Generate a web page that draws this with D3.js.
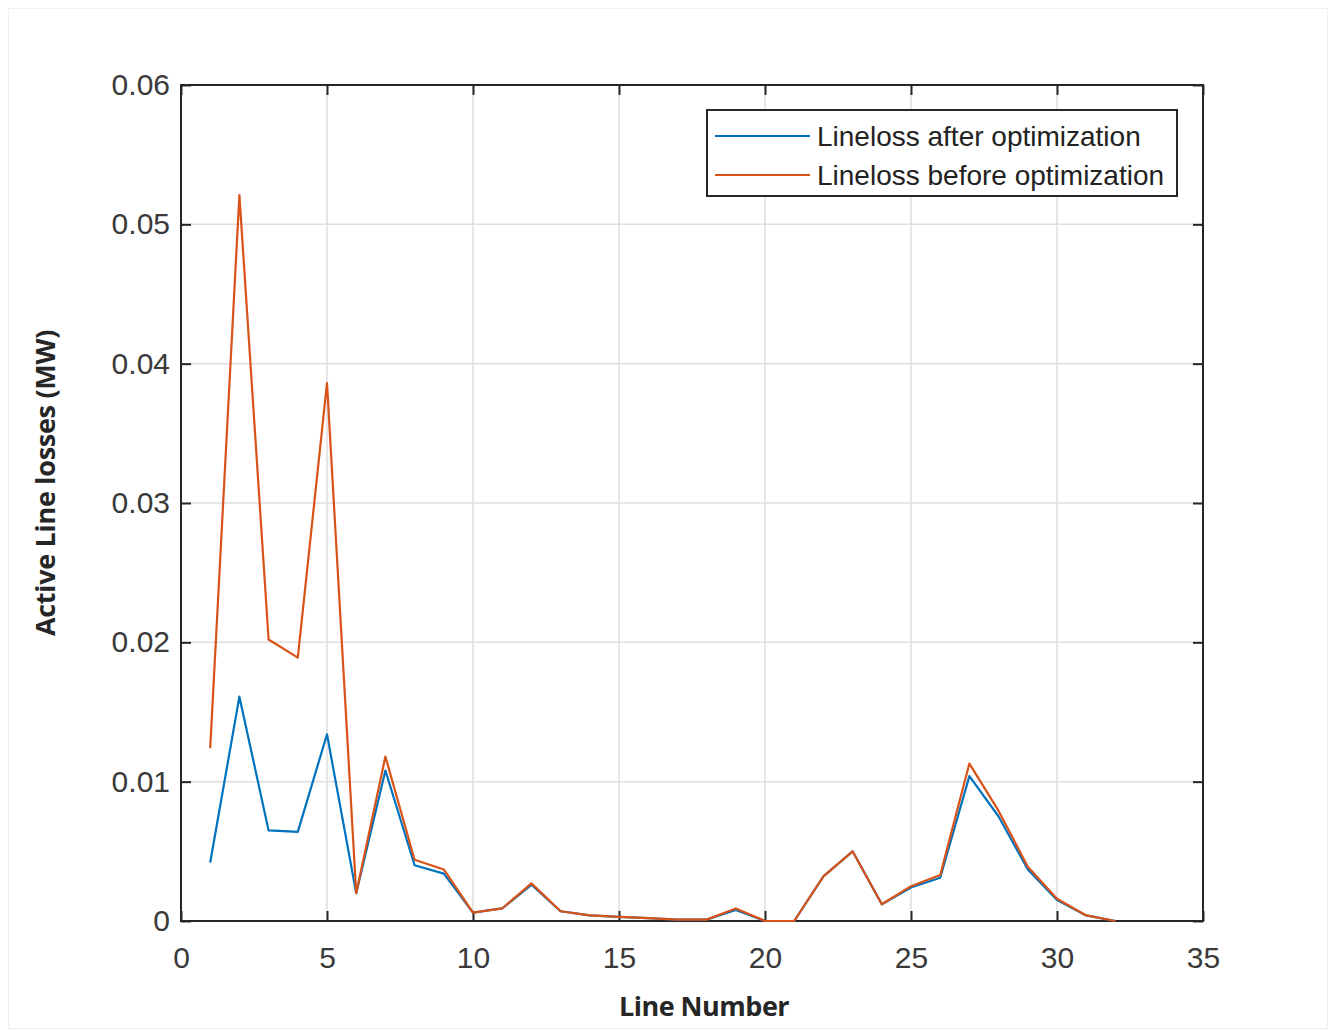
<!DOCTYPE html>
<html>
<head>
<meta charset="utf-8">
<script src="https://cdn.jsdelivr.net/npm/d3@7"></script>
<style>
  body { margin: 0; background: #fff; }
  svg { display: block; }
</style>
</head>
<body>
<div id="chart"></div>
<script>
// line numbers 1..32
let lineNumbers = d3.range(1, 33);

// active line losses (MW)
let lossAfter = [0.0042, 0.0161, 0.0065, 0.0064, 0.0134, 0.0020, 0.0108, 0.0040, 0.0034, 0.0006,
                 0.0009, 0.0026, 0.0007, 0.0004, 0.0003, 0.0002, 0.0001, 0.0001, 0.0008, 0.0000,
                 0.0000, 0.0032, 0.0050, 0.0012, 0.0024, 0.0031, 0.0104, 0.0075, 0.0037, 0.0015,
                 0.0004, 0.0000];
let lossBefore = [0.0124, 0.0521, 0.0202, 0.0189, 0.0386, 0.0020, 0.0118, 0.0044, 0.0037, 0.0006,
                  0.0009, 0.0027, 0.0007, 0.0004, 0.0003, 0.0002, 0.0001, 0.0001, 0.0009, 0.0000,
                  0.0000, 0.0032, 0.0050, 0.0012, 0.0025, 0.0033, 0.0113, 0.0079, 0.0039, 0.0016,
                  0.0004, 0.0000];

let xTicks = [0, 5, 10, 15, 20, 25, 30, 35];
let yTicks = [0, 0.01, 0.02, 0.03, 0.04, 0.05, 0.06];

let seriesNames = ["Lineloss after optimization", "Lineloss before optimization"];
let seriesColors = ["#0072BD", "#D95319"];

let width = 1336, height = 1030;
let margin = {top: 85, right: 133, bottom: 109, left: 181};
let w = width - margin.left - margin.right;
let h = height - margin.top - margin.bottom;

let svg = d3.select("#chart").append("svg")
    .attr("width", width)
    .attr("height", height);

// faint outer frame
svg.append("rect")
    .attr("x", 8.5).attr("y", 8.5)
    .attr("width", width - 17).attr("height", height - 10)
    .attr("fill", "none").attr("stroke", "#f0f0f0");

let g = svg.append("g").attr("transform", `translate(${margin.left},${margin.top})`);

let x = d3.scaleLinear().domain([0, 35]).range([0, w]);
let y = d3.scaleLinear().domain([0, 0.06]).range([h, 0]);

// grid
g.append("g").selectAll("line").data(xTicks.slice(1, -1)).join("line")
    .attr("x1", d => x(d)).attr("x2", d => x(d))
    .attr("y1", 0).attr("y2", h)
    .attr("stroke", "#dedede").attr("stroke-width", 1.5);
g.append("g").selectAll("line").data(yTicks.slice(1, -1)).join("line")
    .attr("x1", 0).attr("x2", w)
    .attr("y1", d => y(d)).attr("y2", d => y(d))
    .attr("stroke", "#dedede").attr("stroke-width", 1.5);

// axes with inward ticks
let fmtY = d => d === 0 ? "0" : d3.format(".2f")(d);
let axisStyle = sel => {
    sel.select(".domain").remove();
    sel.selectAll(".tick line").attr("stroke", "#262626").attr("stroke-width", 2);
    sel.selectAll(".tick text")
        .attr("fill", "#3a3a3a")
        .style("font-family", "'Liberation Sans', Arial, sans-serif")
        .style("font-size", "30px");
};

g.append("g").attr("transform", `translate(0,${h})`)
    .call(d3.axisBottom(x).tickValues(xTicks).tickSize(-10).tickPadding(26))
    .call(axisStyle);
g.append("g")
    .call(d3.axisTop(x).tickValues(xTicks).tickSize(-10).tickFormat(""))
    .call(axisStyle);
g.append("g")
    .call(d3.axisLeft(y).tickValues(yTicks).tickSize(-10).tickFormat(fmtY).tickPadding(11))
    .call(axisStyle);
g.append("g").attr("transform", `translate(${w},0)`)
    .call(d3.axisRight(y).tickValues(yTicks).tickSize(-10).tickFormat(""))
    .call(axisStyle);

// box
g.append("rect")
    .attr("width", w).attr("height", h)
    .attr("fill", "none")
    .attr("stroke", "#262626").attr("stroke-width", 2);

// lines
let line = d3.line()
    .x((d, i) => x(lineNumbers[i]))
    .y(d => y(d));

[lossAfter, lossBefore].forEach((vals, i) => {
    g.append("path")
        .datum(vals)
        .attr("fill", "none")
        .attr("stroke", seriesColors[i])
        .attr("stroke-width", 2.2)
        .attr("stroke-linejoin", "round")
        .attr("d", line);
});

// legend
let legend = g.append("g").attr("transform", `translate(${707 - margin.left},${110 - margin.top})`);
legend.append("rect")
    .attr("width", 470).attr("height", 86)
    .attr("fill", "#fff").attr("stroke", "#262626").attr("stroke-width", 2);
seriesNames.forEach((name, i) => {
    let yy = 26 + i * 39;
    legend.append("line")
        .attr("x1", 8).attr("x2", 103)
        .attr("y1", yy).attr("y2", yy)
        .attr("stroke", seriesColors[i]).attr("stroke-width", 2.2);
    legend.append("text")
        .attr("x", 110).attr("y", yy)
        .attr("dy", "0.36em")
        .attr("fill", "#222")
        .style("font-family", "'Liberation Sans', Arial, sans-serif")
        .style("font-size", "28px")
        .text(name);
});

// axis titles
svg.append("text")
    .attr("x", margin.left + w / 2 + 12)
    .attr("y", 1016)
    .attr("text-anchor", "middle")
    .attr("fill", "#262626")
    .style("font-family", "'Open Sans', sans-serif")
    .style("font-weight", "bold")
    .style("font-size", "27px")
    .style("letter-spacing", "-0.5px")
    .text("Line Number");

svg.append("text")
    .attr("transform", `translate(55,483) rotate(-90)`)
    .attr("text-anchor", "middle")
    .attr("fill", "#262626")
    .style("font-family", "'Open Sans', sans-serif")
    .style("font-weight", "bold")
    .style("font-size", "27px")
    .style("letter-spacing", "-0.3px")
    .text("Active Line losses (MW)");
</script>
</body>
</html>
